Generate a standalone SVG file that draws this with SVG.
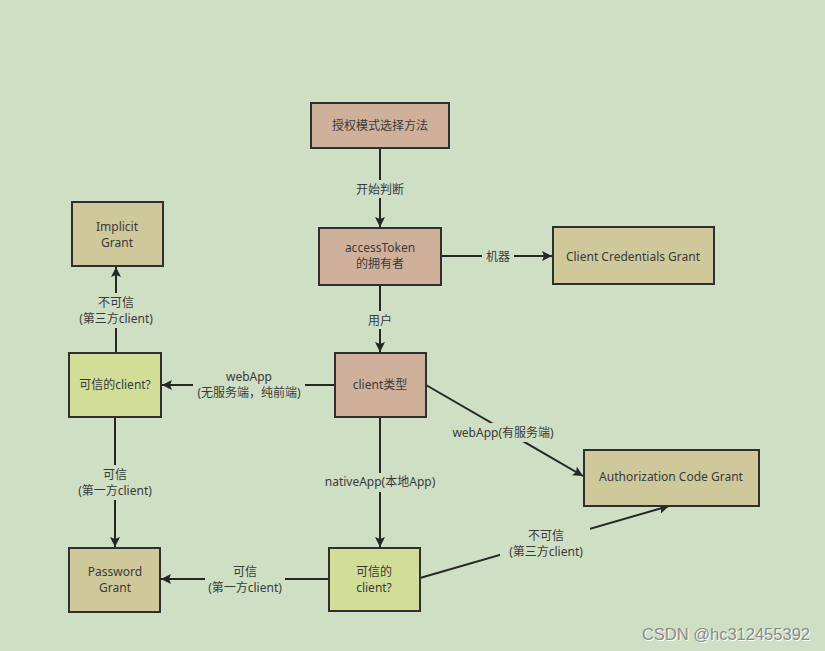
<svg xmlns="http://www.w3.org/2000/svg" width="825" height="651" viewBox="0 0 825 651">
<defs>
<style>
.bg{fill:#cedfc4}
.n rect{stroke:#2f2f2f;stroke-width:2}
.pink{fill:#cfb19b}
.khaki{fill:#cfc89b}
.lime{fill:#d2de98}
text{font-family:"Noto Sans","Noto Sans CJK SC",sans-serif;font-size:12px;fill:#3a3a3a;text-anchor:middle}
.e line{stroke:#262626;stroke-width:2;fill:none}
.lb{fill:#cedfc4}
</style>
<marker id="ah" viewBox="0 0 10 10" refX="10" refY="5" markerWidth="10" markerHeight="10" markerUnits="userSpaceOnUse" orient="auto">
<path d="M0,0 L10,5 L0,10 L2,5 z" fill="#262626"/>
</marker>
</defs>
<rect class="bg" x="0" y="0" width="825" height="651"/>
<g id="connectors" class="e">
<line x1="380" y1="148" x2="380" y2="227" marker-end="url(#ah)"/>
<line x1="441" y1="256" x2="552" y2="256" marker-end="url(#ah)"/>
<line x1="380" y1="285" x2="380" y2="352" marker-end="url(#ah)"/>
<line x1="335" y1="385" x2="162" y2="385" marker-end="url(#ah)"/>
<line x1="426" y1="385" x2="583" y2="476" marker-end="url(#ah)"/>
<line x1="380" y1="417" x2="380" y2="547" marker-end="url(#ah)"/>
<line x1="116" y1="353" x2="116" y2="267" marker-end="url(#ah)"/>
<line x1="115" y1="417" x2="115" y2="547" marker-end="url(#ah)"/>
<line x1="329" y1="579" x2="161" y2="579" marker-end="url(#ah)"/>
<line x1="420" y1="578" x2="669" y2="506" marker-end="url(#ah)"/>
<rect class="lb" x="353" y="180" width="54" height="18"/>
<text x="380" y="194">开始判断</text>
<rect class="lb" x="482" y="248" width="32" height="17"/>
<text x="498" y="261">机器</text>
<rect class="lb" x="364" y="311" width="32" height="18"/>
<text x="380" y="325">用户</text>
<rect class="lb" x="193" y="368" width="112" height="36"/>
<text x="249" y="381">webApp</text>
<text x="249" y="397">(无服务端，纯前端)</text>
<rect class="lb" x="447" y="423" width="112" height="19"/>
<text x="503" y="437">webApp(有服务端)</text>
<rect class="lb" x="322" y="473" width="118" height="19"/>
<text x="380" y="486">nativeApp(本地App)</text>
<rect class="lb" x="76" y="293" width="80" height="35"/>
<text x="116" y="307">不可信</text>
<text x="116" y="323">(第三方client)</text>
<rect class="lb" x="75" y="465" width="80" height="35"/>
<text x="115" y="479">可信</text>
<text x="115" y="495">(第一方client)</text>
<rect class="lb" x="205" y="562" width="80" height="35"/>
<text x="245" y="576">可信</text>
<text x="245" y="592">(第一方client)</text>
<rect class="lb" x="500" y="527" width="90" height="34"/>
<text x="546" y="540">不可信</text>
<text x="546" y="556">(第三方client)</text>
</g>
<g id="start" class="n"><rect class="pink" x="311" y="103" width="138" height="45"/><text x="380" y="130">授权模式选择方法</text></g>
<g id="owner" class="n"><rect class="pink" x="319" y="228" width="122" height="57"/><text x="380" y="252">accessToken</text><text x="380" y="268">的拥有者</text></g>
<g id="ccg" class="n"><rect class="khaki" x="553" y="227" width="161" height="57"/><text x="633" y="261">Client  Credentials Grant</text></g>
<g id="clienttype" class="n"><rect class="pink" x="335" y="353" width="91" height="64"/><text x="380" y="389">client类型</text></g>
<g id="implicit" class="n"><rect class="khaki" x="72" y="202" width="91" height="64"/><text x="117" y="231">Implicit</text><text x="117" y="247">Grant</text></g>
<g id="trust1" class="n"><rect class="lime" x="69" y="353" width="92" height="64"/><text x="115" y="389">可信的client?</text></g>
<g id="acg" class="n"><rect class="khaki" x="584" y="450" width="175" height="56"/><text x="671" y="481">Authorization Code Grant</text></g>
<g id="password" class="n"><rect class="khaki" x="69" y="548" width="91" height="64"/><text x="115" y="576">Password</text><text x="115" y="592">Grant</text></g>
<g id="trust2" class="n"><rect class="lime" x="329" y="548" width="91" height="63"/><text x="374" y="576">可信的</text><text x="374" y="592">client?</text></g>
<text x="811" y="641" style="font-family:'Liberation Sans',sans-serif;font-size:16.5px;fill:#ffffff;text-anchor:end">CSDN @hc312455392</text>
<text x="810" y="640" style="font-family:'Liberation Sans',sans-serif;font-size:16.5px;fill:#8a8a8a;text-anchor:end">CSDN @hc312455392</text>
</svg>
